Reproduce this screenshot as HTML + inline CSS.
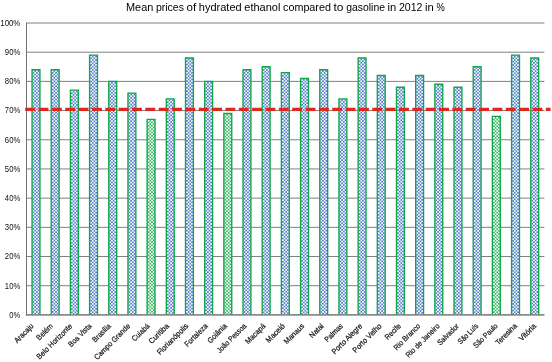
<!DOCTYPE html>
<html><head><meta charset="utf-8"><title>Mean prices of hydrated ethanol</title>
<style>html,body{margin:0;padding:0;background:#fff;}svg{display:block;font-family:"Liberation Sans",sans-serif;}</style></head><body>
<svg width="552" height="362" viewBox="0 0 552 362">
<defs><pattern id="pb" width="3.32" height="3.32" patternUnits="userSpaceOnUse"><rect width="3.32" height="3.32" fill="#fff"/><rect x="0.08" y="0.08" width="1.5" height="1.5" fill="#2F5FC2"/><rect x="1.74" y="1.74" width="1.5" height="1.5" fill="#2F5FC2"/></pattern><pattern id="pg" width="3.32" height="3.32" patternUnits="userSpaceOnUse"><rect width="3.32" height="3.32" fill="#fff"/><rect x="0.08" y="0.08" width="1.5" height="1.5" fill="#0CA848"/><rect x="1.74" y="1.74" width="1.5" height="1.5" fill="#0CA848"/></pattern></defs>
<rect width="552" height="362" fill="#fff"/>
<text y="10.7" font-size="10.4" fill="#000"><tspan x="126.00" textLength="27.34" lengthAdjust="spacingAndGlyphs">Mean</tspan> <tspan x="155.96" textLength="28.01" lengthAdjust="spacingAndGlyphs">prices</tspan> <tspan x="186.60" textLength="9.65" lengthAdjust="spacingAndGlyphs">of</tspan> <tspan x="198.87" textLength="42.79" lengthAdjust="spacingAndGlyphs">hydrated</tspan> <tspan x="244.28" textLength="36.17" lengthAdjust="spacingAndGlyphs">ethanol</tspan> <tspan x="283.07" textLength="47.85" lengthAdjust="spacingAndGlyphs">compared</tspan> <tspan x="333.54" textLength="10.00" lengthAdjust="spacingAndGlyphs">to</tspan> <tspan x="346.16" textLength="38.85" lengthAdjust="spacingAndGlyphs">gasoline</tspan> <tspan x="387.63" textLength="8.75" lengthAdjust="spacingAndGlyphs">in</tspan> <tspan x="398.99" textLength="23.52" lengthAdjust="spacingAndGlyphs">2012</tspan> <tspan x="425.14" textLength="8.75" lengthAdjust="spacingAndGlyphs">in</tspan> <tspan x="436.51" textLength="8.29" lengthAdjust="spacingAndGlyphs">%</tspan></text>
<line x1="26.50" x2="544.40" y1="314.90" y2="314.90" stroke="#808080" stroke-width="1"/>
<text x="20.3" y="317.80" font-size="8.7" text-anchor="end" fill="#111" textLength="10.94" lengthAdjust="spacingAndGlyphs">0%</text>
<line x1="26.50" x2="544.40" y1="285.71" y2="285.71" stroke="#808080" stroke-width="1"/>
<text x="20.3" y="288.61" font-size="8.7" text-anchor="end" fill="#111" textLength="15.47" lengthAdjust="spacingAndGlyphs">10%</text>
<line x1="26.50" x2="544.40" y1="256.52" y2="256.52" stroke="#808080" stroke-width="1"/>
<text x="20.3" y="259.42" font-size="8.7" text-anchor="end" fill="#111" textLength="15.47" lengthAdjust="spacingAndGlyphs">20%</text>
<line x1="26.50" x2="544.40" y1="227.33" y2="227.33" stroke="#808080" stroke-width="1"/>
<text x="20.3" y="230.23" font-size="8.7" text-anchor="end" fill="#111" textLength="15.47" lengthAdjust="spacingAndGlyphs">30%</text>
<line x1="26.50" x2="544.40" y1="198.14" y2="198.14" stroke="#808080" stroke-width="1"/>
<text x="20.3" y="201.04" font-size="8.7" text-anchor="end" fill="#111" textLength="15.47" lengthAdjust="spacingAndGlyphs">40%</text>
<line x1="26.50" x2="544.40" y1="168.95" y2="168.95" stroke="#808080" stroke-width="1"/>
<text x="20.3" y="171.85" font-size="8.7" text-anchor="end" fill="#111" textLength="15.47" lengthAdjust="spacingAndGlyphs">50%</text>
<line x1="26.50" x2="544.40" y1="139.76" y2="139.76" stroke="#808080" stroke-width="1"/>
<text x="20.3" y="142.66" font-size="8.7" text-anchor="end" fill="#111" textLength="15.47" lengthAdjust="spacingAndGlyphs">60%</text>
<line x1="26.50" x2="544.40" y1="110.57" y2="110.57" stroke="#808080" stroke-width="1"/>
<text x="20.3" y="113.47" font-size="8.7" text-anchor="end" fill="#111" textLength="15.47" lengthAdjust="spacingAndGlyphs">70%</text>
<line x1="26.50" x2="544.40" y1="81.38" y2="81.38" stroke="#808080" stroke-width="1"/>
<text x="20.3" y="84.28" font-size="8.7" text-anchor="end" fill="#111" textLength="15.47" lengthAdjust="spacingAndGlyphs">80%</text>
<line x1="26.50" x2="544.40" y1="52.19" y2="52.19" stroke="#808080" stroke-width="1"/>
<text x="20.3" y="55.09" font-size="8.7" text-anchor="end" fill="#111" textLength="15.47" lengthAdjust="spacingAndGlyphs">90%</text>
<line x1="26.50" x2="544.40" y1="23.00" y2="23.00" stroke="#808080" stroke-width="1"/>
<text x="20.3" y="25.90" font-size="8.7" text-anchor="end" fill="#111" textLength="20.01" lengthAdjust="spacingAndGlyphs">100%</text>
<line x1="26.50" x2="26.50" y1="22.50" y2="315.40" stroke="#707070" stroke-width="1"/>
<path transform="translate(32.72,68.72)" d="M-0.67 245.68V0.98H7.23V245.68" fill="url(#pb)" stroke="#0CA848" stroke-width="1.35"/>
<path transform="translate(51.90,68.72)" d="M-0.67 245.68V0.98H7.23V245.68" fill="url(#pb)" stroke="#0CA848" stroke-width="1.35"/>
<path transform="translate(71.08,89.15)" d="M-0.67 225.25V0.98H7.23V225.25" fill="url(#pb)" stroke="#0CA848" stroke-width="1.35"/>
<path transform="translate(90.26,54.12)" d="M-0.67 260.28V0.98H7.23V260.28" fill="url(#pb)" stroke="#0CA848" stroke-width="1.35"/>
<path transform="translate(109.44,80.39)" d="M-0.67 234.00V0.98H7.23V234.00" fill="url(#pb)" stroke="#0CA848" stroke-width="1.35"/>
<path transform="translate(128.62,92.07)" d="M-0.67 222.33V0.98H7.22V222.33" fill="url(#pb)" stroke="#0CA848" stroke-width="1.35"/>
<path transform="translate(147.80,118.34)" d="M-0.68 196.06V0.98H7.22V196.06" fill="url(#pg)" stroke="#0CA848" stroke-width="1.35"/>
<path transform="translate(166.99,97.91)" d="M-0.68 216.49V0.98H7.22V216.49" fill="url(#pb)" stroke="#0CA848" stroke-width="1.35"/>
<path transform="translate(186.17,57.04)" d="M-0.68 257.36V0.98H7.22V257.36" fill="url(#pb)" stroke="#0CA848" stroke-width="1.35"/>
<path transform="translate(205.35,80.39)" d="M-0.68 234.00V0.98H7.22V234.00" fill="url(#pb)" stroke="#0CA848" stroke-width="1.35"/>
<path transform="translate(224.53,112.50)" d="M-0.68 201.90V0.98H7.22V201.90" fill="url(#pg)" stroke="#0CA848" stroke-width="1.35"/>
<path transform="translate(243.71,68.72)" d="M-0.68 245.68V0.98H7.22V245.68" fill="url(#pb)" stroke="#0CA848" stroke-width="1.35"/>
<path transform="translate(262.89,65.80)" d="M-0.68 248.60V0.98H7.22V248.60" fill="url(#pb)" stroke="#0CA848" stroke-width="1.35"/>
<path transform="translate(282.07,71.64)" d="M-0.68 242.76V0.98H7.22V242.76" fill="url(#pb)" stroke="#0CA848" stroke-width="1.35"/>
<path transform="translate(301.26,77.48)" d="M-0.68 236.92V0.98H7.22V236.92" fill="url(#pb)" stroke="#0CA848" stroke-width="1.35"/>
<path transform="translate(320.44,68.72)" d="M-0.68 245.68V0.98H7.22V245.68" fill="url(#pb)" stroke="#0CA848" stroke-width="1.35"/>
<path transform="translate(339.62,97.91)" d="M-0.68 216.49V0.98H7.22V216.49" fill="url(#pb)" stroke="#0CA848" stroke-width="1.35"/>
<path transform="translate(358.80,57.04)" d="M-0.68 257.36V0.98H7.22V257.36" fill="url(#pb)" stroke="#0CA848" stroke-width="1.35"/>
<path transform="translate(377.98,74.56)" d="M-0.68 239.84V0.98H7.22V239.84" fill="url(#pb)" stroke="#0CA848" stroke-width="1.35"/>
<path transform="translate(397.16,86.23)" d="M-0.68 228.17V0.98H7.22V228.17" fill="url(#pb)" stroke="#0CA848" stroke-width="1.35"/>
<path transform="translate(416.35,74.56)" d="M-0.68 239.84V0.98H7.22V239.84" fill="url(#pb)" stroke="#0CA848" stroke-width="1.35"/>
<path transform="translate(435.53,83.31)" d="M-0.68 231.09V0.98H7.22V231.09" fill="url(#pb)" stroke="#0CA848" stroke-width="1.35"/>
<path transform="translate(454.71,86.23)" d="M-0.68 228.17V0.98H7.22V228.17" fill="url(#pb)" stroke="#0CA848" stroke-width="1.35"/>
<path transform="translate(473.89,65.80)" d="M-0.68 248.60V0.98H7.22V248.60" fill="url(#pb)" stroke="#0CA848" stroke-width="1.35"/>
<path transform="translate(493.07,115.42)" d="M-0.68 198.98V0.98H7.22V198.98" fill="url(#pg)" stroke="#0CA848" stroke-width="1.35"/>
<path transform="translate(512.25,54.12)" d="M-0.68 260.28V0.98H7.23V260.28" fill="url(#pb)" stroke="#0CA848" stroke-width="1.35"/>
<path transform="translate(531.43,57.04)" d="M-0.67 257.36V0.98H7.23V257.36" fill="url(#pb)" stroke="#0CA848" stroke-width="1.35"/>
<line x1="26.00" x2="544.40" y1="314.90" y2="314.90" stroke="#707070" stroke-width="1"/>
<line x1="25.2" x2="550.6" y1="109.35" y2="109.35" stroke="#DC281E" stroke-width="3.3" stroke-dasharray="9.9 3.45"/>
<text transform="translate(34.14,326.55) rotate(-45)" font-size="7.7" text-anchor="end" fill="#111" stroke="#111" stroke-width="0.2" textLength="23.97" lengthAdjust="spacingAndGlyphs">Aracaju</text>
<text transform="translate(53.47,326.55) rotate(-45)" font-size="7.7" text-anchor="end" fill="#111" stroke="#111" stroke-width="0.2" textLength="20.03" lengthAdjust="spacingAndGlyphs">Belém</text>
<text transform="translate(72.81,326.55) rotate(-45)" font-size="7.7" text-anchor="end" fill="#111" stroke="#111" stroke-width="0.2" textLength="47.05" lengthAdjust="spacingAndGlyphs">Belo Horizonte</text>
<text transform="translate(92.14,326.55) rotate(-45)" font-size="7.7" text-anchor="end" fill="#111" stroke="#111" stroke-width="0.2" textLength="29.46" lengthAdjust="spacingAndGlyphs">Boa Vista</text>
<text transform="translate(111.47,326.55) rotate(-45)" font-size="7.7" text-anchor="end" fill="#111" stroke="#111" stroke-width="0.2" textLength="22.85" lengthAdjust="spacingAndGlyphs">Brasília</text>
<text transform="translate(130.81,326.55) rotate(-45)" font-size="7.7" text-anchor="end" fill="#111" stroke="#111" stroke-width="0.2" textLength="47.55" lengthAdjust="spacingAndGlyphs">Campo Grande</text>
<text transform="translate(150.14,326.55) rotate(-45)" font-size="7.7" text-anchor="end" fill="#111" stroke="#111" stroke-width="0.2" textLength="21.61" lengthAdjust="spacingAndGlyphs">Cuiabá</text>
<text transform="translate(169.48,326.55) rotate(-45)" font-size="7.7" text-anchor="end" fill="#111" stroke="#111" stroke-width="0.2" textLength="24.99" lengthAdjust="spacingAndGlyphs">Curitiba</text>
<text transform="translate(188.81,326.55) rotate(-45)" font-size="7.7" text-anchor="end" fill="#111" stroke="#111" stroke-width="0.2" textLength="40.76" lengthAdjust="spacingAndGlyphs">Florianópolis</text>
<text transform="translate(208.14,326.55) rotate(-45)" font-size="7.7" text-anchor="end" fill="#111" stroke="#111" stroke-width="0.2" textLength="29.25" lengthAdjust="spacingAndGlyphs">Fortaleza</text>
<text transform="translate(227.48,326.55) rotate(-45)" font-size="7.7" text-anchor="end" fill="#111" stroke="#111" stroke-width="0.2" textLength="24.17" lengthAdjust="spacingAndGlyphs">Goiânia</text>
<text transform="translate(246.81,326.55) rotate(-45)" font-size="7.7" text-anchor="end" fill="#111" stroke="#111" stroke-width="0.2" textLength="38.07" lengthAdjust="spacingAndGlyphs">João Pessoa</text>
<text transform="translate(266.14,326.55) rotate(-45)" font-size="7.7" text-anchor="end" fill="#111" stroke="#111" stroke-width="0.2" textLength="25.27" lengthAdjust="spacingAndGlyphs">Macapá</text>
<text transform="translate(285.48,326.55) rotate(-45)" font-size="7.7" text-anchor="end" fill="#111" stroke="#111" stroke-width="0.2" textLength="23.49" lengthAdjust="spacingAndGlyphs">Maceió</text>
<text transform="translate(304.81,326.55) rotate(-45)" font-size="7.7" text-anchor="end" fill="#111" stroke="#111" stroke-width="0.2" textLength="25.38" lengthAdjust="spacingAndGlyphs">Manaus</text>
<text transform="translate(324.14,326.55) rotate(-45)" font-size="7.7" text-anchor="end" fill="#111" stroke="#111" stroke-width="0.2" textLength="16.91" lengthAdjust="spacingAndGlyphs">Natal</text>
<text transform="translate(343.48,326.55) rotate(-45)" font-size="7.7" text-anchor="end" fill="#111" stroke="#111" stroke-width="0.2" textLength="22.57" lengthAdjust="spacingAndGlyphs">Palmas</text>
<text transform="translate(362.81,326.55) rotate(-45)" font-size="7.7" text-anchor="end" fill="#111" stroke="#111" stroke-width="0.2" textLength="39.82" lengthAdjust="spacingAndGlyphs">Porto Alegre</text>
<text transform="translate(382.14,326.55) rotate(-45)" font-size="7.7" text-anchor="end" fill="#111" stroke="#111" stroke-width="0.2" textLength="37.65" lengthAdjust="spacingAndGlyphs">Porto Velho</text>
<text transform="translate(401.48,326.55) rotate(-45)" font-size="7.7" text-anchor="end" fill="#111" stroke="#111" stroke-width="0.2" textLength="19.47" lengthAdjust="spacingAndGlyphs">Recife</text>
<text transform="translate(420.81,326.55) rotate(-45)" font-size="7.7" text-anchor="end" fill="#111" stroke="#111" stroke-width="0.2" textLength="34.10" lengthAdjust="spacingAndGlyphs">Rio Branco</text>
<text transform="translate(440.14,326.55) rotate(-45)" font-size="7.7" text-anchor="end" fill="#111" stroke="#111" stroke-width="0.2" textLength="44.46" lengthAdjust="spacingAndGlyphs">Rio de Janeiro</text>
<text transform="translate(459.48,326.55) rotate(-45)" font-size="7.7" text-anchor="end" fill="#111" stroke="#111" stroke-width="0.2" textLength="27.29" lengthAdjust="spacingAndGlyphs">Salvador</text>
<text transform="translate(478.81,326.55) rotate(-45)" font-size="7.7" text-anchor="end" fill="#111" stroke="#111" stroke-width="0.2" textLength="25.40" lengthAdjust="spacingAndGlyphs">São Luís</text>
<text transform="translate(498.14,326.55) rotate(-45)" font-size="7.7" text-anchor="end" fill="#111" stroke="#111" stroke-width="0.2" textLength="30.95" lengthAdjust="spacingAndGlyphs">São Paulo</text>
<text transform="translate(517.48,326.55) rotate(-45)" font-size="7.7" text-anchor="end" fill="#111" stroke="#111" stroke-width="0.2" textLength="26.96" lengthAdjust="spacingAndGlyphs">Teresina</text>
<text transform="translate(536.81,326.55) rotate(-45)" font-size="7.7" text-anchor="end" fill="#111" stroke="#111" stroke-width="0.2" textLength="21.18" lengthAdjust="spacingAndGlyphs">Vitória</text>
</svg></body></html>
